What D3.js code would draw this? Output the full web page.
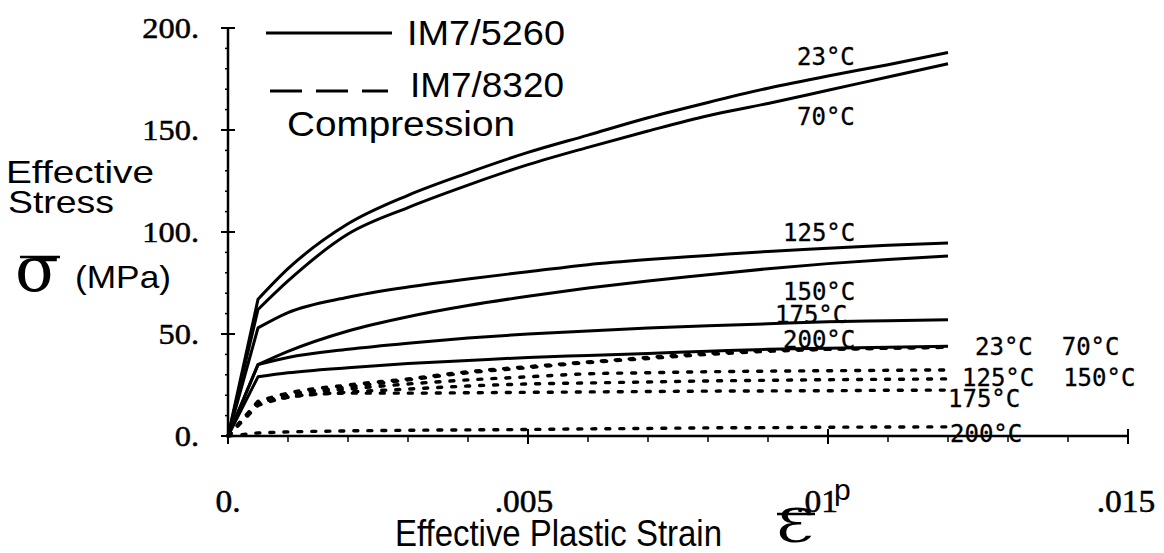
<!DOCTYPE html>
<html>
<head>
<meta charset="utf-8">
<script src="https://cdn.jsdelivr.net/npm/d3@7"></script>
<style>
  html, body { margin: 0; padding: 0; background: #fff; }
  svg { display: block; }
</style>
</head>
<body>
<svg id="chart" width="1164" height="553"></svg>
<script>
// ---------------- DATA ----------------
const strain = [0, 0.0005, 0.001, 0.002, 0.003, 0.004, 0.005, 0.006, 0.007, 0.008, 0.009, 0.010, 0.011, 0.012];

// IM7/5260 (solid)
const im5260_23C  = [0, 67, 82, 104, 118, 129, 139, 147.5, 156, 163.5, 170.5, 176.5, 182, 188];
const im5260_70C  = [0, 62, 76, 99, 112, 123, 133, 141.5, 149.5, 157, 163, 169.5, 176, 182.5];
const im5260_125C = [0, 53, 60.5, 68, 73, 77, 80.5, 84, 86.5, 88.5, 90.5, 92, 93.5, 94.6];
const im5260_150C = [0, 35, 41.5, 51.5, 58.5, 64, 68.5, 72.5, 76, 79, 82, 84.5, 86.5, 88.2];
const im5260_175C = [0, 35, 38.5, 42.5, 45.5, 48, 50, 51.5, 53, 54, 55, 56, 56.5, 57];
const im5260_200C = [0, 29, 31, 33.5, 35.5, 37, 38.5, 39.5, 40.5, 41.5, 42.5, 43, 43.5, 44];

// IM7/8320 (dashed)
const im8320_23C  = [0, 17, 21, 25, 28, 31.5, 34, 36.3, 38.5, 40.5, 42, 42.5, 43, 43.5];
const im8320_70C  = [0, 16, 20, 24, 27.5, 31, 33.5, 36, 38, 40, 41.5, 42.5, 43, 43.5];
const im8320_125C = [0, 16, 20, 23, 25.5, 27.5, 29, 30.5, 31, 31.5, 31.8, 32, 32.2, 32.4];
const im8320_150C = [0, 15, 19, 21.5, 23, 24.5, 25.5, 26, 26.5, 27, 27.3, 27.6, 27.8, 28];
const im8320_175C = [0, 16.5, 19, 21, 21, 21.2, 21.4, 21.6, 21.8, 22, 22.1, 22.2, 22.4, 22.5];
const im8320_200C = [0, 1.5, 2, 2.5, 2.8, 3, 3.2, 3.5, 3.7, 4, 4.1, 4.3, 4.4, 4.5];

const materials = ["IM7/5260", "IM7/8320"];
const yTickValues = [0, 50, 100, 150, 200];
const yTickLabels = ["0.", "50.", "100.", "150.", "200."];
const xTickValues = [0, 0.005, 0.01, 0.015];
const xTickLabels = ["0.", ".005", ".01", ".015"];

const solidSeries = [
  {label: "23°C", values: im5260_23C},
  {label: "70°C", values: im5260_70C},
  {label: "125°C", values: im5260_125C},
  {label: "150°C", values: im5260_150C},
  {label: "175°C", values: im5260_175C},
  {label: "200°C", values: im5260_200C}
];
const dashedSeries = [
  {label: "23°C", values: im8320_23C},
  {label: "70°C", values: im8320_70C},
  {label: "125°C", values: im8320_125C},
  {label: "150°C", values: im8320_150C},
  {label: "175°C", values: im8320_175C},
  {label: "200°C", values: im8320_200C}
];

// ---------------- LAYOUT ----------------
const svg = d3.select("#chart");
const x = d3.scaleLinear().domain([0, 0.015]).range([228, 1128]);
const y = d3.scaleLinear().domain([0, 200]).range([436, 28]);

const sans = "'Liberation Sans', Arial, sans-serif";
const serif = "'Liberation Serif', 'Times New Roman', serif";
const dvserif = "'DejaVu Serif', serif";
const mono = "'DejaVu Sans Mono', monospace";

// axes lines
const axisG = svg.append("g").attr("stroke", "#000").attr("fill", "none");
axisG.append("line").attr("x1", x(0)).attr("x2", x(0)).attr("y1", y(200)).attr("y2", y(0)).attr("stroke-width", 2.5);
axisG.append("line").attr("x1", x(0)).attr("x2", x(0.015)).attr("y1", y(0)).attr("y2", y(0)).attr("stroke-width", 2.5);

d3.range(0, 201, 10).forEach(v => {
  const major = v % 50 === 0;
  axisG.append("line")
    .attr("x1", x(0) - (major ? 7 : 3)).attr("x2", x(0) + (major ? 7 : 0))
    .attr("y1", y(v)).attr("y2", y(v)).attr("stroke-width", major ? 2 : 1.5);
});
d3.range(0, 16).forEach(i => {
  const v = i * 0.001;
  const major = i % 5 === 0;
  axisG.append("line")
    .attr("x1", x(v)).attr("x2", x(v))
    .attr("y1", y(0) - (major ? 7 : 0)).attr("y2", y(0) + (major ? 8 : 6))
    .attr("stroke-width", major ? 2 : 1.5);
});

// y tick labels
svg.append("g").selectAll("text").data(yTickValues).join("text")
  .attr("transform", d => `translate(199,${y(d) + 10}) scale(1.08,1)`)
  .attr("text-anchor", "end")
  .attr("font-family", serif).attr("font-size", 30)
  .attr("stroke", "#000").attr("stroke-width", 0.5)
  .text((d, i) => yTickLabels[i]);

// x tick labels
const xLabelShift = [0, -4, -11, -2];
svg.append("g").selectAll("text").data(xTickValues).join("text")
  .attr("transform", (d, i) => `translate(${x(d) + xLabelShift[i]},512) scale(1.08,1)`)
  .attr("text-anchor", "middle")
  .attr("font-family", serif).attr("font-size", 31)
  .attr("stroke", "#000").attr("stroke-width", 0.5)
  .text((d, i) => xTickLabels[i]);

// curves: linear elastic segment, smooth hardening segment
const lineSmooth = d3.line().x(d => x(d[0])).y(d => y(d[1])).curve(d3.curveMonotoneX);
const lineLin = d3.line().x(d => x(d[0])).y(d => y(d[1]));
function pathFor(values) {
  const pts = values.map((v, i) => [strain[i], v]);
  return lineLin(pts.slice(0, 2)) + lineSmooth(pts.slice(1)).replace(/^M[^A-Za-z]*/, m => "L" + m.slice(1));
}

svg.append("g").selectAll("path").data(solidSeries).join("path")
  .attr("d", d => pathFor(d.values))
  .attr("fill", "none").attr("stroke", "#000").attr("stroke-width", 3)
  .attr("stroke-linejoin", "round");

svg.append("g").selectAll("path").data(dashedSeries).join("path")
  .attr("d", d => pathFor(d.values))
  .attr("fill", "none").attr("stroke", "#000").attr("stroke-width", 3.4)
  .attr("stroke-dasharray", "4,10").attr("stroke-linecap", "round");

// curve labels (solid)
const solidLabelPos = [[797, 65], [797, 125], [783, 241], [783, 300], [775, 323], [783, 348]];
svg.append("g").selectAll("text").data(solidSeries).join("text")
  .attr("x", (d, i) => solidLabelPos[i][0]).attr("y", (d, i) => solidLabelPos[i][1])
  .attr("font-family", mono).attr("font-size", 24)
  .attr("stroke", "#000").attr("stroke-width", 0.3)
  .text(d => d.label);

// curve labels (dashed)
const dashedLabelRows = [
  {text: dashedSeries[0].label + "  " + dashedSeries[1].label, x: 975, y: 355},
  {text: dashedSeries[2].label + "  " + dashedSeries[3].label, x: 962, y: 386},
  {text: dashedSeries[4].label, x: 948, y: 407},
  {text: dashedSeries[5].label, x: 950, y: 442}
];
svg.append("g").selectAll("text").data(dashedLabelRows).join("text")
  .attr("x", d => d.x).attr("y", d => d.y)
  .attr("font-family", mono).attr("font-size", 24)
  .attr("stroke", "#000").attr("stroke-width", 0.3)
  .attr("xml:space", "preserve").style("white-space", "pre")
  .text(d => d.text);

// legend
const leg = svg.append("g");
leg.append("line").attr("x1", 266).attr("x2", 392).attr("y1", 33).attr("y2", 33)
  .attr("stroke", "#000").attr("stroke-width", 3);
leg.append("line").attr("x1", 270).attr("x2", 388).attr("y1", 91).attr("y2", 91)
  .attr("stroke", "#000").attr("stroke-width", 3).attr("stroke-dasharray", "32,14");
leg.append("text").attr("x", 407).attr("y", 45).attr("font-family", sans).attr("font-size", 35)
  .attr("textLength", 158).attr("lengthAdjust", "spacingAndGlyphs").text(materials[0]);
leg.append("text").attr("x", 410).attr("y", 97).attr("font-family", sans).attr("font-size", 35)
  .attr("textLength", 154).attr("lengthAdjust", "spacingAndGlyphs").text(materials[1]);
leg.append("text").attr("x", 287).attr("y", 136).attr("font-family", sans).attr("font-size", 35)
  .attr("textLength", 228).attr("lengthAdjust", "spacingAndGlyphs").text("Compression");

// y axis title
const yt = svg.append("g").attr("font-family", sans).attr("font-size", 32);
yt.append("text").attr("x", 6).attr("y", 183).attr("textLength", 148).attr("lengthAdjust", "spacingAndGlyphs").text("Effective");
yt.append("text").attr("x", 8).attr("y", 213).attr("textLength", 106).attr("lengthAdjust", "spacingAndGlyphs").text("Stress");
yt.append("text").attr("x", 15).attr("y", 291).attr("font-family", dvserif).attr("font-size", 64).text("σ");
yt.append("line").attr("x1", 20).attr("x2", 60).attr("y1", 257).attr("y2", 257).attr("stroke", "#000").attr("stroke-width", 2.5);
yt.append("text").attr("x", 75).attr("y", 288).attr("textLength", 96).attr("lengthAdjust", "spacingAndGlyphs").text("(MPa)");

// x axis title
const xt = svg.append("g");
xt.append("text").attr("x", 395).attr("y", 546).attr("font-family", sans).attr("font-size", 36)
  .attr("textLength", 327).attr("lengthAdjust", "spacingAndGlyphs").text("Effective Plastic Strain");
xt.append("text").attr("transform", "translate(776,542) scale(1.35,1)").attr("font-family", dvserif).attr("font-size", 46).text("Ɛ");
xt.append("line").attr("x1", 777).attr("x2", 815).attr("y1", 514).attr("y2", 514).attr("stroke", "#000").attr("stroke-width", 2.5);
xt.append("text").attr("x", 834).attr("y", 500).attr("font-family", sans).attr("font-size", 30).text("p");
</script>
</body>
</html>
